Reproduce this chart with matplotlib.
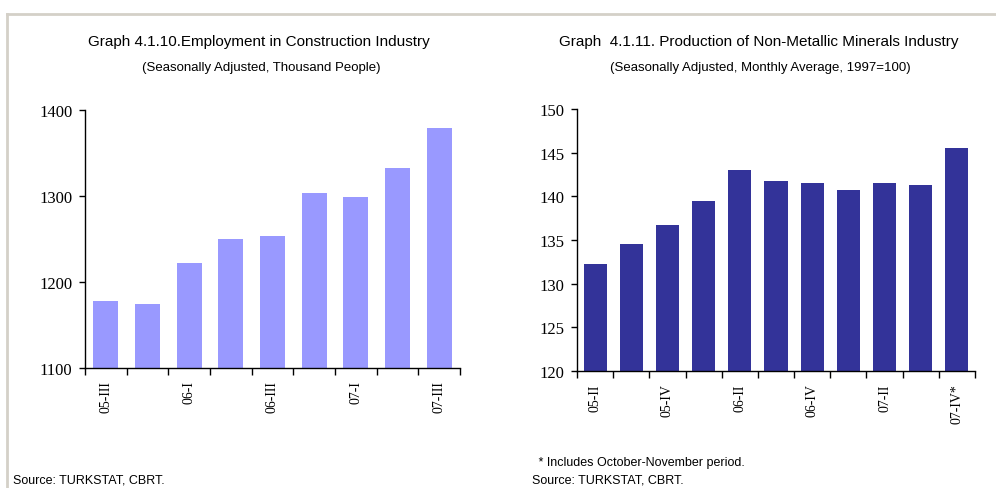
import matplotlib
matplotlib.use("Agg")
import matplotlib.pyplot as plt
from matplotlib.lines import Line2D

# Quarterly employment in construction (thousand people, seasonally adjusted)
emp_quarters = ["05-III", "05-IV", "06-I", "06-II", "06-III", "06-IV", "07-I", "07-II", "07-III"]
emp_values = [1178, 1174.5, 1222, 1250, 1254, 1304, 1299, 1332, 1379]

# Quarterly non-metallic minerals production index (1997=100)
prod_quarters = ["05-II", "05-III", "05-IV", "06-I", "06-II", "06-III", "06-IV", "07-I", "07-II", "07-III", "07-IV*"]
prod_values = [132.3, 134.5, 136.7, 139.5, 143.0, 141.7, 141.5, 140.7, 141.5, 141.3, 145.5]

W, H = 996, 489
sans = "Liberation Sans"
serif = "Liberation Serif"

fig = plt.figure(figsize=(W / 100, H / 100), dpi=100)
fig.patch.set_facecolor("white")

# light frame along the top and left edges
frame = "#d4d0c8"
fig.add_artist(Line2D([7 / W, 1], [1 - 15 / H, 1 - 15 / H], color=frame, lw=2, transform=fig.transFigure))
fig.add_artist(Line2D([7 / W, 7 / W], [0, 1 - 15 / H], color=frame, lw=2, transform=fig.transFigure))


def px_axes(x0, y0, x1, y1):
    return fig.add_axes([x0 / W, 1 - y1 / H, (x1 - x0) / W, (y1 - y0) / H])


def bar_panel(ax, labels, values, color, width, ylim, yticks):
    n = len(values)
    pos = list(range(n))
    ax.bar(pos, values, width=width, color=color, zorder=2)
    ax.set_xlim(-0.5, n - 0.5)
    ax.set_ylim(*ylim)
    ax.set_yticks(yticks)
    ax.set_yticklabels([str(v) for v in yticks], fontfamily=serif, fontsize=12)
    # labels on every other bar, tick marks on category boundaries
    ax.set_xticks(pos[::2])
    ax.set_xticklabels(labels[::2], rotation=90, fontfamily=serif, fontsize=10)
    ax.set_xticks([p - 0.5 for p in range(n + 1)], minor=True)
    ax.tick_params(axis="x", which="major", length=0, pad=9)
    ax.tick_params(axis="x", which="minor", length=5, direction="out", width=1)
    ax.tick_params(axis="y", length=4, direction="out", width=1, pad=5)
    for s in ("top", "right"):
        ax.spines[s].set_visible(False)
    for s in ("left", "bottom"):
        ax.spines[s].set_linewidth(1)
        ax.spines[s].set_color("black")
        ax.spines[s].set_zorder(3)


ax1 = px_axes(85, 111, 460, 369)
bar_panel(ax1, emp_quarters, emp_values, "#9999ff", 0.6, (1100, 1400), [1100, 1200, 1300, 1400])

ax2 = px_axes(577, 110, 975, 372)
bar_panel(ax2, prod_quarters, prod_values, "#333399", 0.64, (120, 150), [120, 125, 130, 135, 140, 145, 150])

# titles
fig.text(259 / W, 1 - 42 / H, "Graph 4.1.10.Employment in Construction Industry",
         ha="center", va="center", fontfamily=sans, fontsize=11)
fig.text(261 / W, 1 - 68 / H, "(Seasonally Adjusted, Thousand People)",
         ha="center", va="center", fontfamily=sans, fontsize=9.5)
fig.text(759 / W, 1 - 42 / H, "Graph  4.1.11. Production of Non-Metallic Minerals Industry",
         ha="center", va="center", fontfamily=sans, fontsize=11)
fig.text(760 / W, 1 - 68 / H, "(Seasonally Adjusted, Monthly Average, 1997=100)",
         ha="center", va="center", fontfamily=sans, fontsize=9.5)

# notes
fig.text(13 / W, 1 - 481 / H, "Source: TURKSTAT, CBRT.", ha="left", va="center",
         fontfamily=sans, fontsize=9)
fig.text(535 / W, 1 - 463 / H, " * Includes October-November period.", ha="left", va="center",
         fontfamily=sans, fontsize=9)
fig.text(532 / W, 1 - 481 / H, "Source: TURKSTAT, CBRT.", ha="left", va="center",
         fontfamily=sans, fontsize=9)

fig.savefig("out.png", dpi=100)
